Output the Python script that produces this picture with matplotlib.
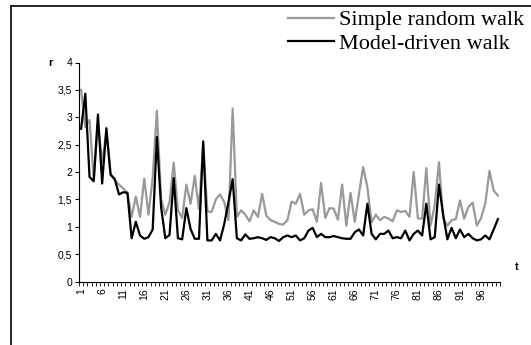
import numpy as np
import matplotlib
matplotlib.use("Agg")
import matplotlib.pyplot as plt
from matplotlib.lines import Line2D
from matplotlib.ticker import FixedLocator, FuncFormatter

# t = 1..100
simple_walk = [3.50, 2.82, 2.95, 1.88, 2.90, 2.18, 2.72, 1.97, 1.85, 1.77,
               1.70, 1.62, 1.18, 1.55, 1.18, 1.88, 1.22, 1.90, 3.12, 1.50,
               1.22, 1.45, 2.17, 1.30, 1.16, 1.77, 1.42, 1.93, 1.32, 2.50,
               1.28, 1.27, 1.50, 1.59, 1.45, 1.12, 3.16, 1.18, 1.30, 1.22,
               1.10, 1.30, 1.18, 1.60, 1.20, 1.12, 1.09, 1.05, 1.04, 1.12,
               1.46, 1.42, 1.60, 1.22, 1.30, 1.32, 1.09, 1.80, 1.16, 1.34,
               1.33, 1.13, 1.77, 1.02, 1.62, 1.09, 1.60, 2.09, 1.72, 1.08,
               1.22, 1.12, 1.18, 1.15, 1.10, 1.30, 1.27, 1.29, 1.18, 2.00,
               1.15, 1.15, 2.07, 1.02, 1.39, 2.18, 1.15, 1.02, 1.12, 1.14,
               1.48, 1.15, 1.36, 1.44, 1.02, 1.16, 1.42, 2.02, 1.66, 1.57]

model_walk = [2.79, 3.43, 1.91, 1.83, 3.05, 1.79, 2.80, 1.95, 1.87, 1.59,
              1.63, 1.62, 0.79, 1.09, 0.84, 0.78, 0.81, 0.95, 2.64, 1.36,
              0.79, 0.85, 1.89, 0.79, 0.77, 1.34, 0.96, 0.78, 0.78, 2.56,
              0.75, 0.75, 0.87, 0.75, 1.05, 1.45, 1.87, 0.79, 0.75, 0.86,
              0.78, 0.79, 0.81, 0.79, 0.76, 0.81, 0.79, 0.74, 0.81, 0.84,
              0.81, 0.84, 0.75, 0.79, 0.93, 0.98, 0.81, 0.87, 0.81, 0.81,
              0.83, 0.81, 0.79, 0.78, 0.78, 0.90, 0.95, 0.84, 1.42, 0.87,
              0.77, 0.87, 0.87, 0.93, 0.79, 0.81, 0.79, 0.93, 0.75, 0.87,
              0.93, 0.84, 1.42, 0.77, 0.81, 1.77, 1.22, 0.77, 0.98, 0.79,
              0.95, 0.81, 0.87, 0.79, 0.75, 0.77, 0.84, 0.77, 0.95, 1.14]

t = np.arange(1, len(simple_walk) + 1)
x_labels = list(range(1, 100, 5))
y_ticks = [0, 0.5, 1, 1.5, 2, 2.5, 3, 3.5, 4]

fig = plt.figure(figsize=(5.31, 3.45), dpi=100, facecolor="white")
ax = fig.add_axes([79 / 531, 1 - 281.5 / 345, 421 / 531, 219 / 345])

ax.plot(t, simple_walk, color="#999999", lw=1.6, label="Simple random walk", zorder=2)
ax.plot(t, model_walk, color="black", lw=1.6, label="Model-driven walk", zorder=3)

ax.set_xlim(0.5, 100.5)
ax.set_ylim(0, 4)

for s in ["top", "right"]:
    ax.spines[s].set_visible(False)
for s in ["left", "bottom"]:
    ax.spines[s].set_linewidth(0.8)
    ax.spines[s].set_color("black")

ax.yaxis.set_major_locator(FixedLocator(y_ticks))
ax.yaxis.set_major_formatter(FuncFormatter(lambda v, p: f"{v:g}".replace(".", ",")))
ax.tick_params(axis="y", direction="out", length=3, width=0.8, labelsize=7.5, pad=2)

ax.xaxis.set_major_locator(FixedLocator(x_labels))
ax.xaxis.set_minor_locator(FixedLocator(np.arange(0.5, 101, 1)))
ax.set_xticklabels([str(v) for v in x_labels], rotation=90)
ax.tick_params(axis="x", which="major", length=0, labelsize=7.5, pad=5)
ax.tick_params(axis="x", which="minor", direction="out", length=3, width=0.6)

for lbl in ax.get_xticklabels() + ax.get_yticklabels():
    lbl.set_family("Liberation Sans")

fig.text(50 / 531, 1 - 63 / 345, "r", fontsize=8, fontweight="bold",
         family="Liberation Sans", ha="center", va="center")
fig.text(517 / 531, 1 - 267 / 345, "t", fontsize=8, fontweight="bold",
         family="Liberation Sans", ha="center", va="center")

fig.legend(loc="upper right", bbox_to_anchor=(1.012, 1.01), frameon=False,
           prop={"family": "Liberation Serif", "size": 16},
           handlelength=2.1, handletextpad=0.2, labelspacing=0.12,
           borderaxespad=0.2)

# page frame (left and top edges)
fig.add_artist(Line2D([11 / 531, 11 / 531], [0, 1 - 6 / 345], color="black", lw=1.2))
fig.add_artist(Line2D([11 / 531, 1], [1 - 6 / 345, 1 - 6 / 345], color="black", lw=1.2))

fig.savefig("out.png", dpi=100)
